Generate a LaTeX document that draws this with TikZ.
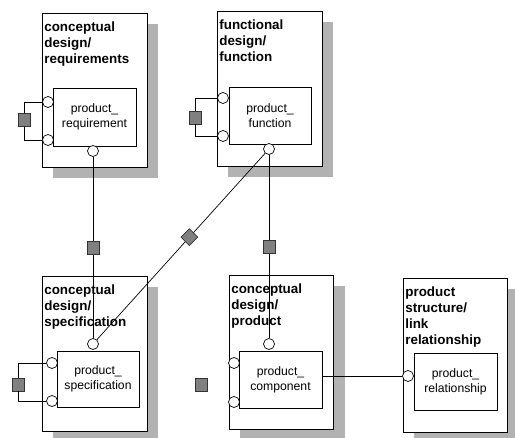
\documentclass[tikz,border=0pt]{standalone}
\usepackage{fontspec}
\setmainfont{Liberation Sans}
\usetikzlibrary{shapes.geometric}
\definecolor{bongxam}{gray}{0.70}
\definecolor{khoaxam}{gray}{0.50}
\definecolor{vienxam}{gray}{0.20}

\begin{document}
\begin{tikzpicture}[x=1pt,y=-1pt,line width=0.7pt,
	tieude/.style={anchor=north west,align=left,inner sep=2pt,font=\fontsize{13.4}{16}\selectfont\bfseries},
	hop/.style={draw,fill=white,align=center,inner sep=0pt,minimum width=82pt,minimum height=57pt,font=\fontsize{12.2}{15}\selectfont},
	cong/.style={circle,draw,fill=white,inner sep=0pt,minimum size=11pt},
	khoa/.style={rectangle,draw=vienxam,fill=khoaxam,inner sep=0pt,minimum width=12pt,minimum height=13pt},
	thoi/.style={diamond,draw=vienxam,fill=khoaxam,inner sep=0pt,minimum width=17pt,minimum height=17pt}]
			\useasboundingbox (0,0) rectangle (515,438);
			\fill [bongxam] (53,24) rectangle (158,178);
			\fill [bongxam] (228,22) rectangle (333,177);
			\fill [bongxam] (53,287) rectangle (158,442);
			\fill [bongxam] (240,286) rectangle (345,440);
			\fill [bongxam] (414,289) rectangle (518,443);
			\filldraw [fill=white] (42,13) rectangle (147,167);
			\filldraw [fill=white] (217,11) rectangle (322,166);
			\filldraw [fill=white] (42,276) rectangle (147,431);
			\filldraw [fill=white] (229,275) rectangle (333,429);
			\filldraw [fill=white] (403,278) rectangle (507,432);
			\node [tieude] (t1) at (42,19.5) {conceptual\\design/\\requirements};
			\node [tieude] (t2) at (217,17.5) {functional\\design/\\function};
			\node [tieude] (t3) at (42,282.5) {conceptual\\design/\\specification};
			\node [tieude] (t4) at (229,281.5) {conceptual\\design/\\product};
			\node [tieude] (t5) at (403,284.5) {product\\structure/\\link\\relationship};
			\node [hop, minimum width=83pt, minimum height=58pt] (req) at (94.5,117) {product\_\\requirement};
			\node [hop] (fun) at (270,115.5) {product\_\\function};
			\node [hop, minimum height=56pt] (spec) at (98,379) {product\_\\specification};
			\node [hop, minimum width=83pt] (comp) at (280.5,379.5) {product\_\\component};
			\node [hop, minimum width=83pt] (rel) at (455.5,381.5) {product\_\\relationship};
			\node [cong] (req-l1) at (48,102) {};
			\node [cong] (req-l2) at (48,140) {};
			\node [cong] (req-b) at (93,151) {};
			\node [cong] (fun-l1) at (223,98) {};
			\node [cong] (fun-l2) at (223,136) {};
			\node [cong] (fun-b) at (269,149) {};
			\node [cong] (spec-l1) at (52,363) {};
			\node [cong] (spec-l2) at (52,401) {};
			\node [cong] (spec-t) at (93,344) {};
			\node [cong] (comp-l1) at (234,363) {};
			\node [cong] (comp-l2) at (234,402) {};
			\node [cong] (comp-t) at (269,344) {};
			\node [cong] (rel-l) at (408,376) {};
			\node [khoa] (req-k) at (24,120) {};
			\node [khoa] (fun-k) at (195,117.5) {};
			\node [khoa] (spec-k) at (18,384.5) {};
			\node [khoa] (le) at (201,385) {};
			\draw (req-l1) -| (req-k) |- (req-l2);
			\draw (fun-l1) -| (fun-k) |- (fun-l2);
			\draw (spec-l1) -| (spec-k) |- (spec-l2);
			\draw (req-b) -- node [khoa] (req-spec) {} (spec-t);
			\draw (fun-b) -- node [thoi, pos=0.45] (fun-spec) {} (spec-t);
			\draw (fun-b) -- node [khoa] (fun-comp) {} (comp-t);
			\draw (comp.east |- rel-l) -- (rel-l);
		\end{tikzpicture}
\end{document}
